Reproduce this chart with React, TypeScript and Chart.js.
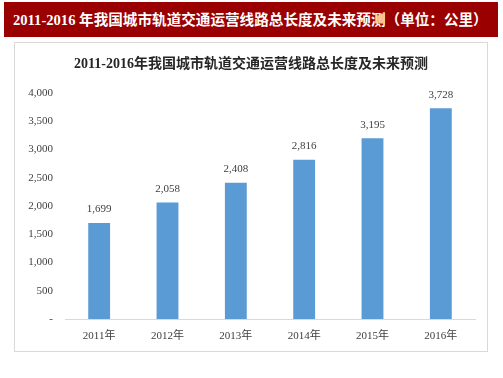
import React, { useEffect, useRef } from "react";
import { Chart, registerables } from "chart.js";

Chart.register(...registerables);

const categories = ["2011年", "2012年", "2013年", "2014年", "2015年", "2016年"];
const lengths = [1699, 2058, 2408, 2816, 3195, 3728];
const yTicks = [0, 500, 1000, 1500, 2000, 2500, 3000, 3500, 4000];
const headerText = "2011-2016 年我国城市轨道交通运营线路总长度及未来预测（单位：公里）";
const chartTitle = "2011-2016年我国城市轨道交通运营线路总长度及未来预测";

const FONT = '"Liberation Serif", "Times New Roman", "Noto Sans CJK SC", serif';

const fmt = (v: number) => (v === 0 ? "-" : v.toLocaleString("en-US"));

const dataLabels = {
  id: "dataLabels",
  afterDatasetsDraw(chart: any) {
    const ctx = chart.ctx;
    const meta = chart.getDatasetMeta(0);
    ctx.save();
    ctx.font = `11px ${FONT}`;
    ctx.fillStyle = "#404040";
    ctx.textAlign = "center";
    ctx.textBaseline = "bottom";
    meta.data.forEach((bar: any, i: number) => {
      ctx.fillText(fmt(lengths[i]), bar.x, bar.y - 8);
    });
    ctx.restore();
  },
};

export default function App() {
  const ref = useRef<HTMLCanvasElement | null>(null);
  useEffect(() => {
    document.body.style.margin = "0";
    if (!ref.current) return;
    const chart = new Chart(ref.current, {
      type: "bar",
      data: {
        labels: categories,
        datasets: [
          {
            data: lengths,
            backgroundColor: "#5B9BD5",
            barPercentage: 0.64,
            categoryPercentage: 0.5,
          },
        ],
      },
      options: {
        animation: false,
        responsive: false,
        maintainAspectRatio: false,
        layout: { padding: { left: 12, right: 12, top: 0, bottom: 0 } },
        plugins: {
          legend: { display: false },
          tooltip: { enabled: false },
          title: {
            display: true,
            text: chartTitle,
            color: "#262626",
            font: { family: FONT, size: 14, weight: "bold" },
            padding: { top: 13, bottom: 20 },
          },
        },
        scales: {
          x: {
            afterFit: (scale: any) => {
              scale.height = 32;
            },
            grid: { display: false, drawTicks: false },
            border: { display: true, color: "#d9d9d9" },
            ticks: { color: "#404040", font: { family: FONT, size: 11 }, padding: 11 },
          },
          y: {
            min: 0,
            max: 4000,
            afterBuildTicks: (scale: any) => {
              scale.ticks = yTicks.map((v) => ({ value: v }));
            },
            afterFit: (scale: any) => {
              scale.width = 38;
            },
            grid: { display: false, drawTicks: false },
            border: { display: false },
            ticks: {
              color: "#404040",
              font: { family: FONT, size: 11 },
              padding: 12,
              callback: (v: any) => fmt(Number(v)),
            },
          },
        },
      },
      plugins: [dataLabels],
    });
    return () => chart.destroy();
  }, []);

  return (
    <div style={{ position: "relative", width: 503, height: 378, background: "#fff" }}>
      <div
        style={{
          position: "absolute",
          left: 4,
          top: 2,
          width: 494,
          height: 35,
          background: "#9a0000",
          color: "#fff",
          fontFamily: FONT,
          fontWeight: "bold",
          fontSize: 14.6,
          lineHeight: "36px",
          paddingLeft: 9,
          boxSizing: "border-box",
          whiteSpace: "nowrap",
          overflow: "hidden",
        }}
      >
        {headerText}
      </div>
      <div
        style={{
          position: "absolute",
          left: 14,
          top: 42,
          width: 474,
          height: 310,
          border: "1px solid #d9d9d9",
          boxSizing: "border-box",
        }}
      >
        <canvas ref={ref} width={472} height={308} style={{ display: "block" }} />
      </div>
    </div>
  );
}
